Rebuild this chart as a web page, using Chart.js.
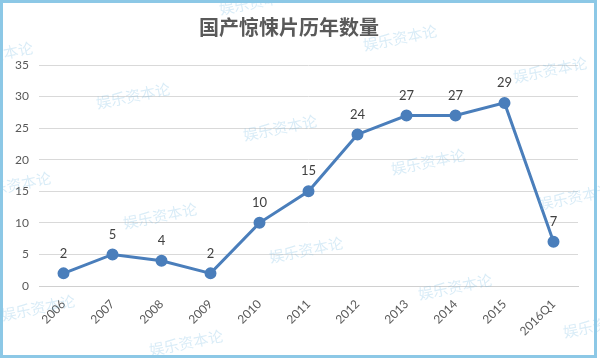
<!DOCTYPE html>
<html>
<head>
<meta charset="utf-8">
<script src="https://cdn.jsdelivr.net/npm/chart.js@4"></script>
<style>
  html, body { margin: 0; padding: 0; background: #fff; }
  #wrap { position: relative; width: 600px; height: 361px; }
  #frame {
    position: absolute; left: 0; top: 0; width: 591px; height: 352px;
    border: 3px solid #8cc8e6; pointer-events: none;
  }
</style>
</head>
<body>
<div id="wrap">
  <canvas id="chart" width="600" height="361"></canvas>
  <div id="frame"></div>
</div>
<script>
// 数据
const years = ['2006', '2007', '2008', '2009', '2010', '2011', '2012', '2013', '2014', '2015', '2016Q1'];
const counts = [2, 5, 4, 2, 10, 15, 24, 27, 27, 29, 7];
const yMax = 35;
const yStep = 5;

// 水印位置（中心点）
const wmText = '娱乐资本论';
const wmSpots = [
  [256, 2], [400, 38], [-4, 55], [133, 96], [550, 70], [280, 128],
  [428, 162], [14, 185], [575, 197], [160, 216], [306, 250],
  [455, 287], [38, 308], [600, 325], [186, 343]
];

const txt = '#595959';

// 数据标签
const valueLabels = {
  id: 'valueLabels',
  afterDatasetsDraw(chart) {
    const ctx = chart.ctx;
    const meta = chart.getDatasetMeta(0);
    ctx.save();
    ctx.font = '13px Lato, "Noto Sans", sans-serif';
    ctx.fillStyle = '#404040';
    ctx.textAlign = 'center';
    ctx.textBaseline = 'middle';
    meta.data.forEach((pt, i) => {
      ctx.fillText(counts[i], pt.x, pt.y - 20);
    });
    ctx.restore();
  }
};

// 水印
const watermark = {
  id: 'watermark',
  afterDraw(chart) {
    const ctx = chart.ctx;
    ctx.save();
    ctx.font = '15px "Noto Sans CJK SC", sans-serif';
    ctx.fillStyle = 'rgba(120, 185, 225, 0.28)';
    ctx.textAlign = 'center';
    ctx.textBaseline = 'middle';
    wmSpots.forEach(([x, y]) => {
      ctx.save();
      ctx.translate(x, y);
      ctx.rotate(-0.2);
      ctx.fillText(wmText, 0, 0);
      ctx.restore();
    });
    ctx.restore();
  }
};

new Chart(document.getElementById('chart').getContext('2d'), {
  type: 'line',
  data: {
    labels: years,
    datasets: [{
      data: counts,
      borderColor: '#4a7ebb',
      backgroundColor: '#4a7ebb',
      borderWidth: 3,
      pointRadius: 4.5,
      pointHoverRadius: 4.5,
      tension: 0
    }]
  },
  options: {
    responsive: false,
    animation: false,
    layout: { padding: { left: 0, right: 22, top: 0, bottom: 0 } },
    plugins: {
      legend: { display: false },
      tooltip: { enabled: false },
      title: {
        display: true,
        text: '国产惊悚片历年数量',
        color: txt,
        font: { size: 20, weight: 'bold', family: '"Noto Sans CJK SC", sans-serif' },
        padding: { top: 15, bottom: 26 }
      }
    },
    scales: {
      x: {
        offset: true,
        grid: { display: false },
        border: { color: '#d0d0d0', width: 1 },
        ticks: {
          color: txt,
          font: { size: 12, family: 'Lato, "Noto Sans", sans-serif' },
          minRotation: 45,
          maxRotation: 45,
          padding: 3
        },
        afterFit: s => { s.height = 75; }
      },
      y: {
        min: 0,
        max: yMax,
        grid: { color: '#d9d9d9', drawTicks: false },
        border: { display: false },
        ticks: {
          stepSize: yStep,
          color: txt,
          padding: 10,
          font: { size: 12, family: 'Lato, "Noto Sans", sans-serif' }
        },
        afterFit: s => { s.width = 39; }
      }
    }
  },
  plugins: [valueLabels, watermark]
});
</script>
</body>
</html>
